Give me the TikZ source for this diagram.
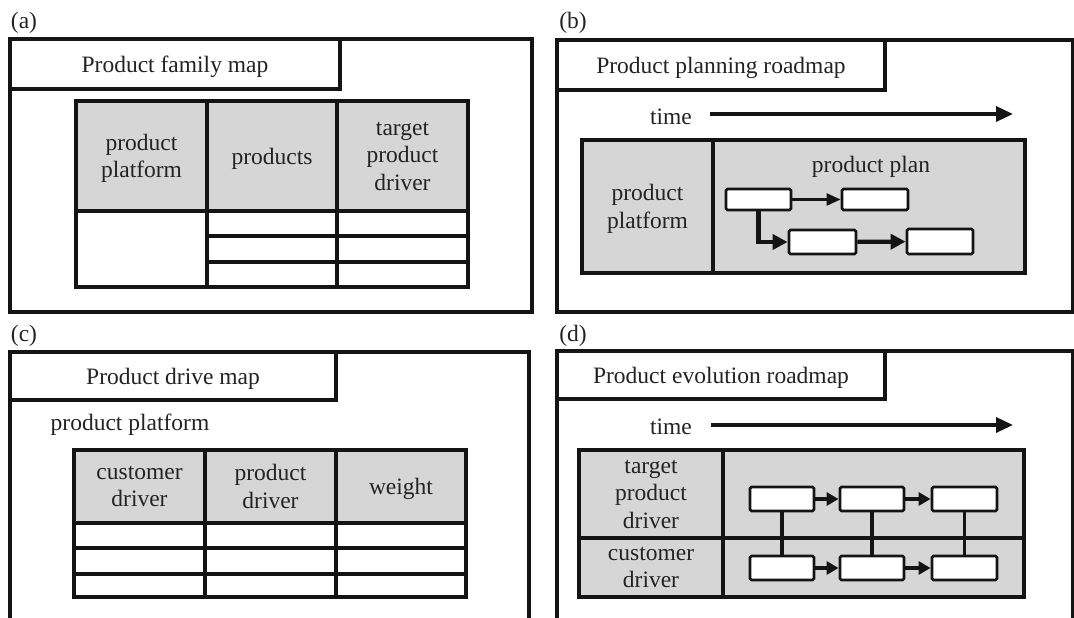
\documentclass[tikz,border=0pt]{standalone}
\usepackage{fontspec}
\setmainfont{Liberation Serif}
\usetikzlibrary{arrows.meta}
\definecolor{cellgray}{RGB}{214,214,214}
\definecolor{ink}{RGB}{20,20,20}
\definecolor{txt}{RGB}{35,35,35}
\newcommand\mkrect[7]{\node[#2, minimum width={(#5-#3)*1pt}, minimum height={(#6-#4)*1pt}] (#1) at ({(#3+#5)/2},{(#4+#6)/2}) {#7};}
\begin{document}
\begin{tikzpicture}[x=1pt,y=-1pt,
  every node/.style={font=\fontsize{23.5}{27.5}\selectfont, text=txt},
  frame/.style={draw=ink, line width=3.4pt, inner sep=0pt},
  titlebox/.style={frame, fill=white, text depth=0pt},
  hcell/.style={frame, fill=cellgray, align=center, text depth=0pt},
  ecell/.style={frame, fill=white},
  gcell/.style={frame, fill=cellgray, align=center, text depth=0pt},
  flow/.style={draw=ink, line width=2.8pt, fill=white, rounded corners=1.5pt, inner sep=0pt},
  plain/.style={inner sep=0pt, align=center},
  timearrow/.style={draw=ink, line width=3.4pt, -{Triangle[length=17pt,width=15pt]}},
  arrowthin/.style={draw=ink, line width=2.4pt, -{Triangle[length=14pt,width=12pt]}},
  arrowthick/.style={draw=ink, line width=4.2pt, line join=miter, -{Triangle[length=15pt,width=15pt]}},
  arrowshort/.style={draw=ink, line width=4.5pt, -{Triangle[length=12pt,width=13pt]}},
  link/.style={draw=ink, line width=3.2pt},
]
\useasboundingbox (0,0) rectangle (1074,618);
\clip (0,0) rectangle (1074,618);

% ---------- (a) ----------
\node[plain] (la) at (24,23) {(a)};
\mkrect{aOuter}{frame}{10}{39}{532}{312}{}
\mkrect{aTitle}{titlebox}{10}{39}{340}{89}{Product family map}
\mkrect{aH1}{hcell}{76}{101}{207}{211}{product\\platform}
\mkrect{aH2}{hcell}{207}{101}{337}{211}{products}
\mkrect{aH3}{hcell}{337}{101}{468}{211}{target\\product\\driver}
\mkrect{aP}{ecell}{76}{211}{207}{287}{}
\mkrect{aR1a}{ecell}{207}{211}{337}{236}{}
\mkrect{aR1b}{ecell}{337}{211}{468}{236}{}
\mkrect{aR2a}{ecell}{207}{236}{337}{262}{}
\mkrect{aR2b}{ecell}{337}{236}{468}{262}{}
\mkrect{aR3a}{ecell}{207}{262}{337}{287}{}
\mkrect{aR3b}{ecell}{337}{262}{468}{287}{}

% ---------- (b) ----------
\node[plain] (lb) at (573,23) {(b)};
\mkrect{bOuter}{frame}{557}{40}{1073}{312}{}
\mkrect{bTitle}{titlebox}{557}{40}{885}{90}{Product planning roadmap}
\node[plain] (bTime) at (671,117) {time};
\coordinate (bT0) at (710,114);
\coordinate (bT1) at (1013,114);
\draw[timearrow] (bT0) -- (bT1);
\mkrect{bPlat}{gcell}{582}{140}{713}{273}{product\\platform}
\mkrect{bPlan}{gcell}{713}{140}{1025}{273}{}
\node[plain] (bPlanLbl) at (871,167) {product plan};
\mkrect{bF1}{flow}{726}{189}{791}{210}{}
\mkrect{bF2}{flow}{842}{189}{908}{210}{}
\mkrect{bF3}{flow}{789}{230}{856}{254}{}
\mkrect{bF4}{flow}{907}{229}{973}{254}{}
\draw[arrowthin] (bF1) -- (bF2);
\draw[arrowthick] (bF1.south) |- (bF3.west);
\draw[arrowthick] (bF3) -- (bF4);

% ---------- (c) ----------
\node[plain] (lc) at (24,336) {(c)};
\mkrect{cOuter}{frame}{10}{352}{529}{640}{}
\mkrect{cTitle}{titlebox}{10}{352}{336}{400}{Product drive map}
\node[plain] (cPlat) at (130,425) {product platform};
\mkrect{cH1}{hcell}{74}{450}{205}{523}{customer\\driver}
\mkrect{cH2}{hcell}{205}{450}{336}{523}{product\\driver}
\mkrect{cH3}{hcell}{336}{450}{466}{523}{weight}
\mkrect{cR1a}{ecell}{74}{523}{205}{548}{}
\mkrect{cR1b}{ecell}{205}{523}{336}{548}{}
\mkrect{cR1c}{ecell}{336}{523}{466}{548}{}
\mkrect{cR2a}{ecell}{74}{548}{205}{574}{}
\mkrect{cR2b}{ecell}{205}{548}{336}{574}{}
\mkrect{cR2c}{ecell}{336}{548}{466}{574}{}
\mkrect{cR3a}{ecell}{74}{574}{205}{597}{}
\mkrect{cR3b}{ecell}{205}{574}{336}{597}{}
\mkrect{cR3c}{ecell}{336}{574}{466}{597}{}

% ---------- (d) ----------
\node[plain] (ld) at (573,336) {(d)};
\mkrect{dOuter}{frame}{557}{351}{1073}{640}{}
\mkrect{dTitle}{titlebox}{557}{351}{885}{399}{Product evolution roadmap}
\node[plain] (dTime) at (671,427) {time};
\coordinate (dT0) at (711,425);
\coordinate (dT1) at (1013,425);
\draw[timearrow] (dT0) -- (dT1);
\mkrect{dTP}{gcell}{579}{450}{723}{538}{target\\product\\driver}
\mkrect{dCD}{gcell}{579}{538}{723}{597}{customer\\driver}
\mkrect{dTPr}{gcell}{723}{450}{1024}{538}{}
\mkrect{dCDr}{gcell}{723}{538}{1024}{597}{}
\mkrect{dA1}{flow}{750}{487}{814}{511}{}
\mkrect{dA2}{flow}{840}{487}{904}{511}{}
\mkrect{dA3}{flow}{932}{487}{997}{511}{}
\mkrect{dB1}{flow}{750}{556}{814}{580}{}
\mkrect{dB2}{flow}{840}{556}{904}{580}{}
\mkrect{dB3}{flow}{932}{556}{997}{580}{}
\draw[link] (dA1.south) -- (dB1.north);
\draw[link] (dA2.south) -- (dB2.north);
\draw[link] (dA3.south) -- (dB3.north);
\draw[arrowshort] (dA1) -- (dA2);
\draw[arrowshort] (dA2) -- (dA3);
\draw[arrowshort] (dB1) -- (dB2);
\draw[arrowshort] (dB2) -- (dB3);
\end{tikzpicture}
\end{document}
